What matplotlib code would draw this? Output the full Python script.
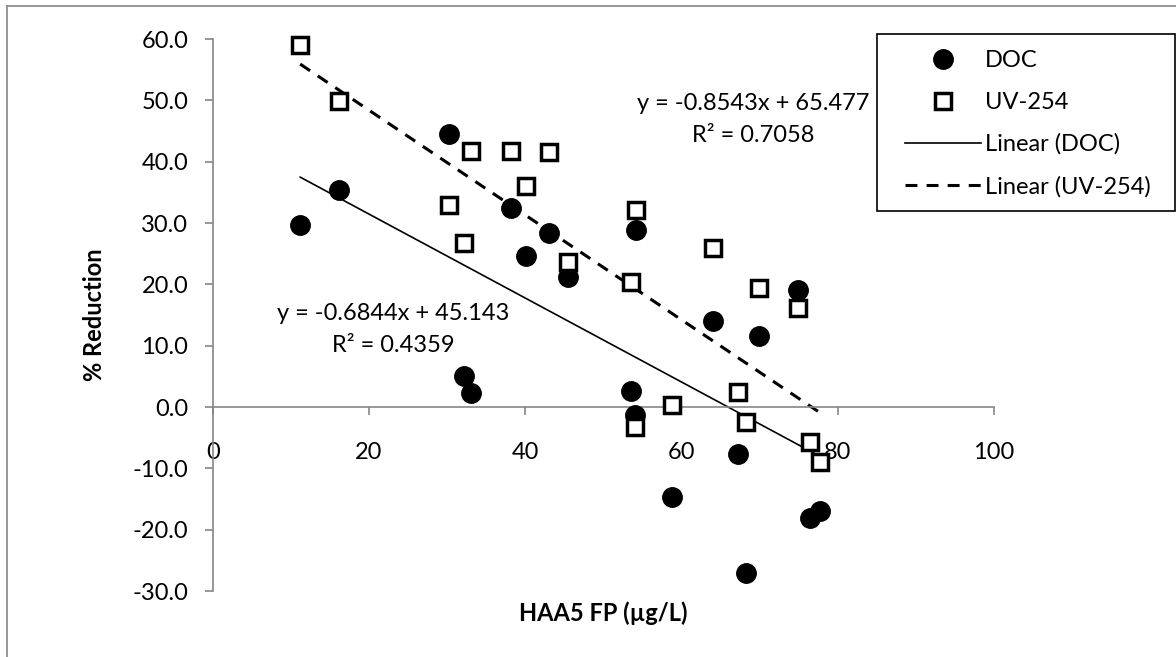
import matplotlib.pyplot as plt
import numpy as np
from matplotlib.lines import Line2D
from matplotlib.patches import Rectangle

plt.rcParams['font.family'] = ['Lato', 'DejaVu Sans']

# HAA5 formation potential of each sample (ug/L)
haa5_fp = [11.2, 16.2, 30.2, 32.2, 33.0, 38.2, 40.1, 43.0, 45.5, 53.6,
           54.0, 54.2, 58.8, 64.0, 67.2, 68.2, 69.9, 74.9, 76.4, 77.7]
# % reduction of DOC and UV-254 for the same samples
doc_red = [29.6, 35.3, 44.5, 5.1, 2.3, 32.5, 24.6, 28.4, 21.2, 2.6,
           -1.3, 28.8, -14.7, 14.0, -7.6, -27.0, 11.5, 19.0, -18.1, -17.0]
uv_red = [59.0, 49.9, 33.0, 26.7, 41.8, 41.8, 36.1, 41.5, 23.6, 20.3,
          -3.3, 32.2, 0.3, 26.0, 2.5, -2.5, 19.4, 16.2, -5.7, -9.0]

# linear fits (slope, intercept, r squared)
doc_fit = (-0.6844, 45.143, 0.4359)
uv_fit = (-0.8543, 65.477, 0.7058)

W, H = 1176, 657
fig = plt.figure(figsize=(W / 100, H / 100), dpi=100)
ax = fig.add_axes([212.7 / W, 66 / H, 781.3 / W, 552 / H])

gray = '#868686'
dash = (0, (3.9, 3.0))
xs = np.array([min(haa5_fp), max(haa5_fp)])
ax.plot(xs, doc_fit[0] * xs + doc_fit[1], color='black', lw=1.2, zorder=2)
ax.plot(xs, uv_fit[0] * xs + uv_fit[1], color='black', lw=2.2,
        linestyle=dash, zorder=2)
ax.plot(haa5_fp, doc_red, 'o', color='black', ms=14, zorder=3, clip_on=False)
ax.plot(haa5_fp, uv_red, 's', mfc='white', mec='black', mew=2.5, ms=12,
        zorder=4, clip_on=False)

ax.set_xlim(0, 100)
ax.set_ylim(-30, 60)
ax.set_xticks(range(0, 101, 20))
ax.set_yticks(range(-30, 61, 10))
ax.set_yticklabels([f"{v:.1f}" for v in range(-30, 61, 10)])
for side in ['top', 'right']:
    ax.spines[side].set_visible(False)
ax.spines['bottom'].set_position(('data', 0))
for side in ['left', 'bottom']:
    ax.spines[side].set_color(gray)
    ax.spines[side].set_linewidth(1.2)
ax.tick_params(direction='out', length=6.1, width=1.2, color=gray,
               labelsize=17)
ax.tick_params(axis='x', pad=19)
ax.tick_params(axis='y', pad=11.5)

fig.text(94 / W, 1 - 315 / H, '% Reduction', rotation=90, fontsize=17,
         fontweight='bold', ha='center', va='center')
fig.text(603 / W, 1 - 613 / H, 'HAA5 FP (µg/L)', fontsize=17,
         fontweight='bold', ha='center', va='center')

fig.text(753 / W, 1 - 103 / H, f"y = {uv_fit[0]:.4f}x + {uv_fit[1]:.3f}",
         fontsize=17, ha='center', va='center')
fig.text(753 / W, 1 - 136 / H, f"R² = {uv_fit[2]:.4f}",
         fontsize=17, ha='center', va='center')
fig.text(393 / W, 1 - 313 / H, f"y = {doc_fit[0]:.4f}x + {doc_fit[1]:.3f}",
         fontsize=17, ha='center', va='center')
fig.text(393 / W, 1 - 345 / H, f"R² = {doc_fit[2]:.4f}",
         fontsize=17, ha='center', va='center')

# legend: frame drawn separately so the padding can differ per side
fig.add_artist(Rectangle((877 / W, 1 - 210.7 / H), 298 / W, 176.7 / H,
                         transform=fig.transFigure, facecolor='white',
                         edgecolor='black', lw=1.2, zorder=5))
handles = [
    Line2D([], [], marker='o', color='black', ls='none', ms=14),
    Line2D([], [], marker='s', mfc='white', mec='black', mew=2.5, ms=12, ls='none'),
    Line2D([], [], color='black', lw=1.2),
    Line2D([], [], color='black', lw=2.2, linestyle=dash),
]
labels = ['DOC', 'UV-254', 'Linear (DOC)', 'Linear (UV-254)']
leg = fig.legend(handles, labels, loc='upper left',
                 bbox_to_anchor=(905 / W, 1 - 50 / H), fontsize=17,
                 frameon=False, handlelength=3.2, handletextpad=0.2,
                 labelspacing=0.88, borderpad=0, borderaxespad=0)
leg.set_zorder(6)

# chart area border
fig.add_artist(Line2D([7 / W, 1], [1 - 6 / H, 1 - 6 / H], color=gray, lw=1.2))
fig.add_artist(Line2D([7 / W, 7 / W], [0, 1 - 6 / H], color=gray, lw=1.2))

fig.savefig('out.png', dpi=100)
